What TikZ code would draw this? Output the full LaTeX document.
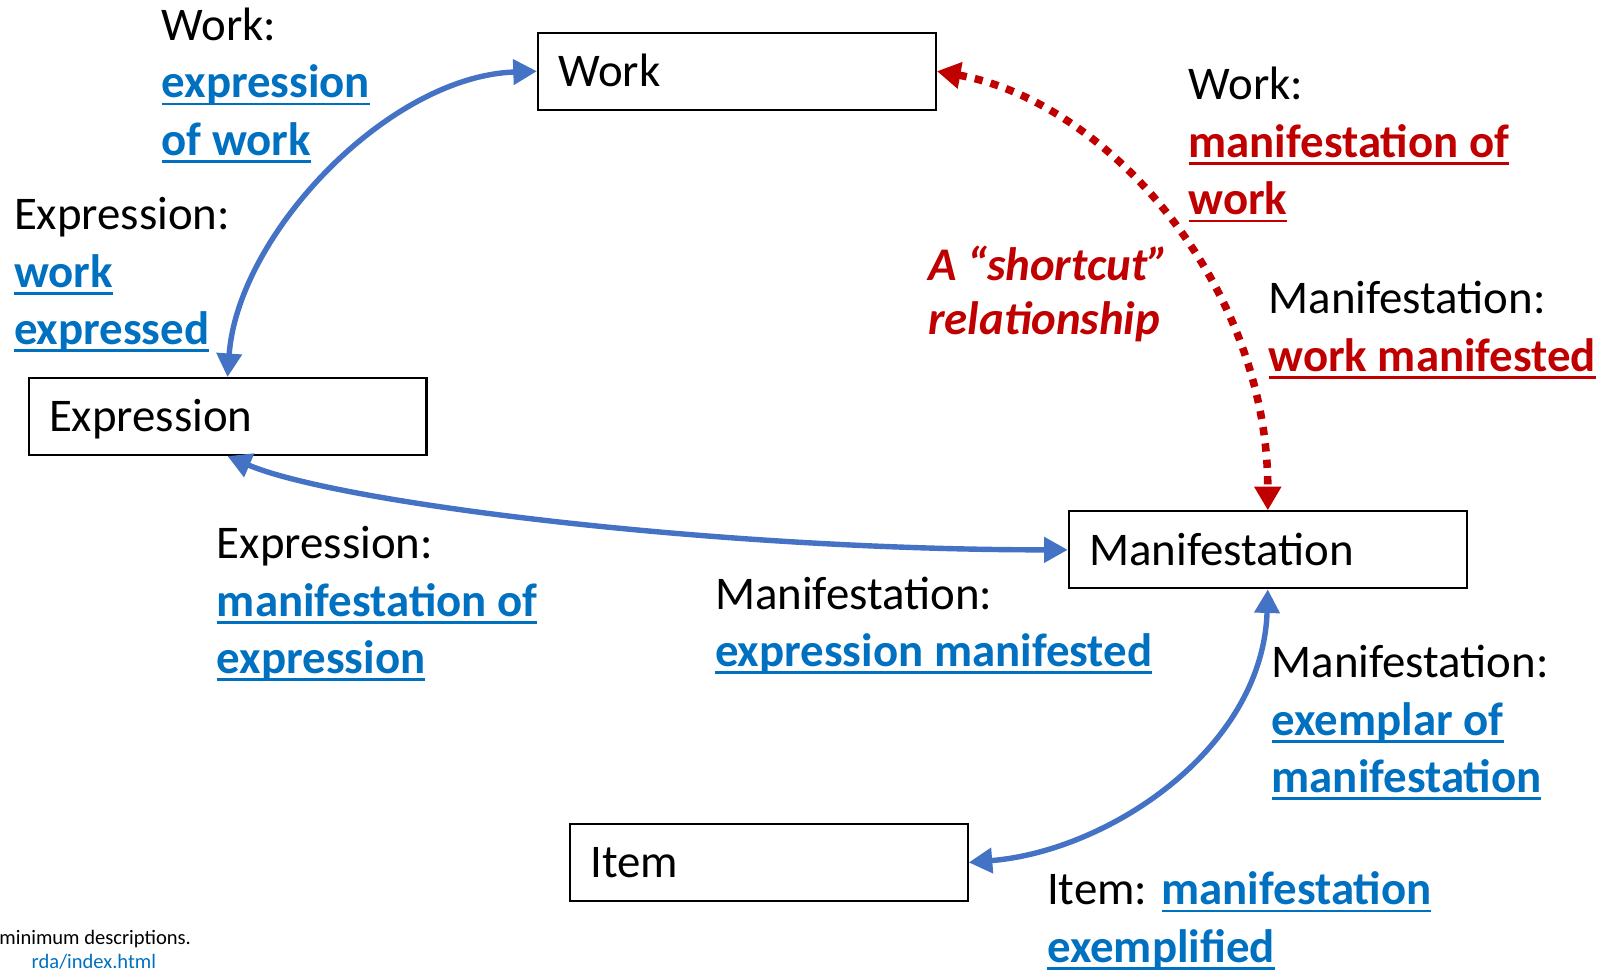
\documentclass[tikz,border=0pt]{standalone}
\usepackage{fontspec}
\setmainfont{Carlito}
\usetikzlibrary{arrows.meta}
\definecolor{linkblue}{HTML}{0070C0}
\definecolor{arrowblue}{HTML}{4472C4}
\definecolor{shortred}{HTML}{C00000}
\newcommand\lnk[2][linkblue]{{\color{#1}\bfseries\setbox0\hbox{#2}\rlap{\rule[-2.1pt]{\wd0}{0.7pt}}\box0}}
\begin{document}
\begin{tikzpicture}[x=0.01cm,y=-0.01cm,
    box/.style={draw,line width=0.6pt,text width=3.48cm,minimum height=0.75cm,
      inner xsep=0.2cm,inner ysep=0pt,text height=11.5pt,text depth=3pt,
      align=left,font=\fontsize{13}{15.9}\selectfont},
    lbl/.style={anchor=north west,inner sep=0pt,align=left,font=\fontsize{13}{15.9}\selectfont},
    note/.style={anchor=base east,inner sep=0pt,font=\fontsize{5.7}{6.5}\selectfont},
    rel/.style={arrowblue,line width=1.5pt,{Triangle[length=0.23cm,width=0.24cm]}-{Triangle[length=0.23cm,width=0.24cm]}},
    shortcut/.style={shortred,line width=2.1pt,dash pattern=on 0.08cm off 0.08cm,{Triangle[length=0.23cm,width=0.25cm]}-{Triangle[length=0.23cm,width=0.25cm]}}]
  \useasboundingbox (0,0) rectangle (1567,946);
  \draw
    (719,69.5) node[box] (work){Work}
    (222,406.5) node[box] (expression){Expression}
    (1237,536.5) node[box] (manifestation){Manifestation}
    (750,841.5) node[box] (item){Item};
  \node[lbl] (workexpr) at (157,7) {Work:\\\lnk{expression}\\\lnk{of work}};
  \node[lbl] (exprwork) at (13,192) {Expression:\\\lnk{work}\\\lnk{expressed}};
  \node[lbl] (workmanif) at (1159,65) {Work:\\\lnk[shortred]{manifestation of}\\\lnk[shortred]{work}};
  \node[lbl,text=shortred,font=\fontsize{13}{15.2}\selectfont\bfseries\itshape] (shortnote) at (905,239) {A “shortcut”\\relationship};
  \node[lbl] (manifwork) at (1237,274) {Manifestation:\\\lnk[shortred]{work manifested}};
  \node[lbl] (exprmanif) at (211,513) {Expression:\\\lnk{manifestation of}\\\lnk{expression}};
  \node[lbl] (manifexpr) at (697,562) {Manifestation:\\\lnk{expression manifested}};
  \node[lbl] (manifitem) at (1240,629) {Manifestation:\\\lnk{exemplar of}\\\lnk{manifestation}};
  \node[lbl] (itemmanif) at (1021,850) {Item: \lnk{manifestation}\\\lnk{exemplified}};
  \node[note] (source) at (187,922) {minimum descriptions.};
  \node[note,text=linkblue] (sourceurl) at (153,945) {rda/index.html};
  \begin{scope}[rel]
    \draw (expression.north) .. controls +(10,-139) and +(-145,5) .. (work.west);
    \draw (expression.south) .. controls +(108,46) and +(-343,0) .. (manifestation.west);
    \draw (manifestation.south) .. controls +(-5,156) and +(136,-11) .. (item.east);
  \end{scope}
  \draw[shortcut] (work.east) .. controls +(167,30) and +(0,-219) .. (manifestation.north);
\end{tikzpicture}
\end{document}
